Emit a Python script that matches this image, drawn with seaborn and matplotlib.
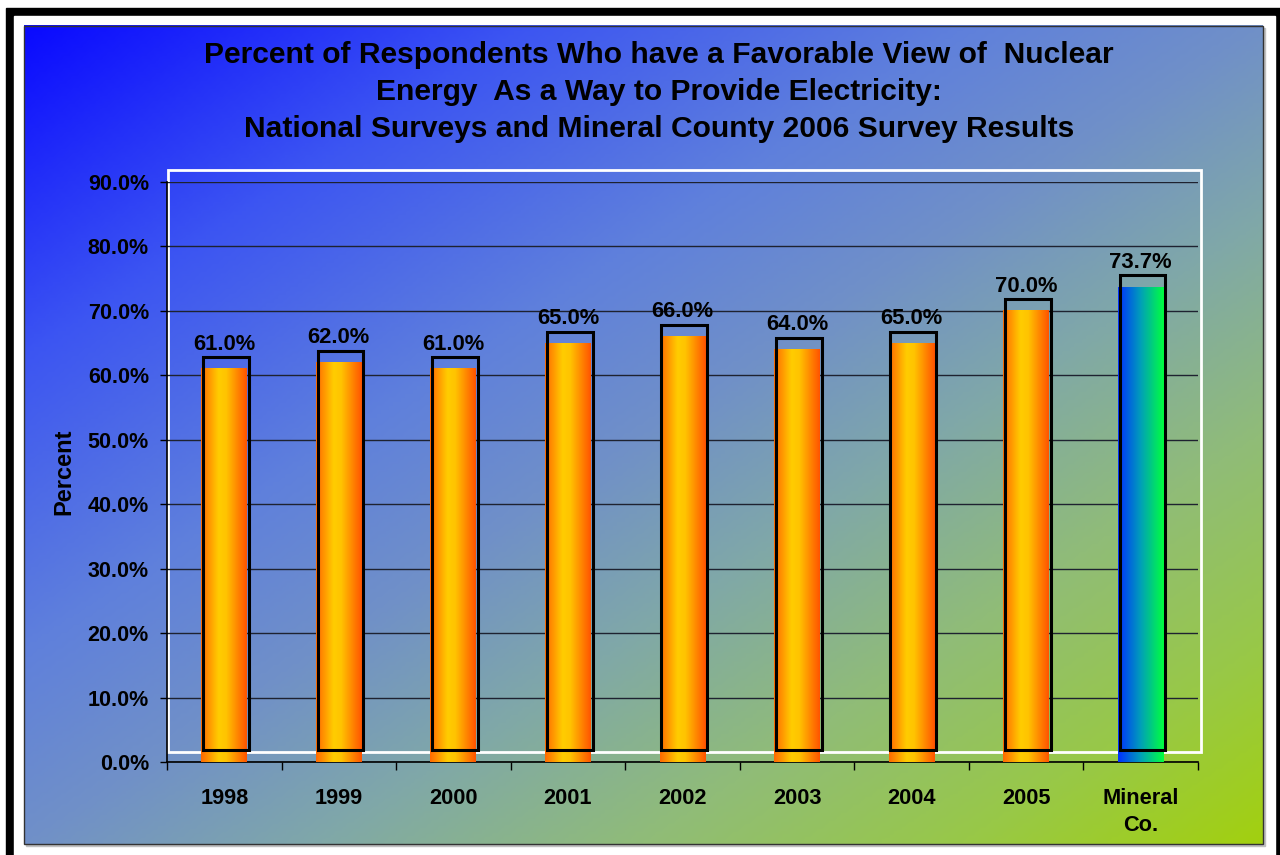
import numpy as np
import matplotlib
matplotlib.use('Agg')
import matplotlib.pyplot as plt
import seaborn as sns
from matplotlib.colors import LinearSegmentedColormap
from matplotlib.patches import Rectangle

# Chart data
categories = ['1998', '1999', '2000', '2001', '2002', '2003', '2004', '2005', 'Mineral\nCo.']
percent_favorable = [61.0, 62.0, 61.0, 65.0, 66.0, 64.0, 65.0, 70.0, 73.7]
y_ticks = [0, 10, 20, 30, 40, 50, 60, 70, 80, 90]
title = ('Percent of Respondents Who have a Favorable View of  Nuclear\n'
         'Energy  As a Way to Provide Electricity:\n'
         'National Surveys and Mineral County 2006 Survey Results')

# Colour ramps
bg_cmap = LinearSegmentedColormap.from_list('bg', [
    (0.0, '#0a0aff'), (0.2, '#3c55f2'), (0.38, '#5f80dc'), (0.5, '#7090c8'),
    (0.62, '#80a8a8'), (0.75, '#90bc78'), (0.88, '#98c848'), (1.0, '#a2d010')])
national_cmap = LinearSegmentedColormap.from_list('national', [
    (0.0, '#ff6a00'), (0.38, '#ffcc00'), (0.55, '#ffc400'), (1.0, '#ff5500')])
county_cmap = LinearSegmentedColormap.from_list('county', [
    (0.0, '#0030ff'), (0.5, '#00a0b8'), (1.0, '#00ff40')])

sns.set_theme(style='white')
plt.rcParams['font.family'] = ['Liberation Sans', 'DejaVu Sans']
plt.rcParams['font.weight'] = 'bold'

fig = plt.figure(figsize=(12.8, 8.55), dpi=100)
fig.patch.set_facecolor('white')

# Background layer in pixel coordinates: frame, gradient, white plot box
bg = fig.add_axes([0, 0, 1, 1], zorder=0)
bg.add_patch(Rectangle((6, 8), 1300, 900, color='black'))
bg.add_patch(Rectangle((14, 16), 1261, 900, color='white'))
bg.add_patch(Rectangle((26, 28), 1239, 818, color='#c0c0c0'))
gx, gy = np.meshgrid(np.linspace(0, 1, 310), np.linspace(0, 1, 205))
bg.imshow(bg_cmap((gx + gy) / 2), extent=(24, 1263, 844, 26), aspect='auto',
          interpolation='bilinear', zorder=1)
bg.add_patch(Rectangle((24, 26), 1239, 818, fill=False, ec='#333333', lw=1, zorder=2))
bg.add_patch(Rectangle((168, 170), 1033, 582, fill=False, ec='white', lw=2, zorder=2))
bg.set_xlim(0, 1280)
bg.set_ylim(855, 0)
bg.axis('off')

# Main chart
ax = fig.add_axes([167 / 1280, 93 / 855, 1031 / 1280, 580 / 855], zorder=1)
ax.patch.set_alpha(0)
sns.barplot(x=categories, y=percent_favorable, width=0.4, color='orange', ax=ax, zorder=3)

shift = 1.8
for i, (bar, value) in enumerate(zip(ax.patches, percent_favorable)):
    x0, w, h = bar.get_x(), bar.get_width(), bar.get_height()
    cmap = county_cmap if i == len(categories) - 1 else national_cmap
    ax.imshow(cmap(np.linspace(0, 1, 64))[None, :, :], extent=(x0, x0 + w, 0, h),
              aspect='auto', interpolation='bilinear', zorder=3)
    bar.set_facecolor('none')
    bar.set_edgecolor('none')
    ax.add_patch(Rectangle((x0 + 0.015, shift), w, h, fill=False, ec='black', lw=2.2, zorder=4))
    ax.annotate(f'{value:.1f}%', (x0 + w / 2, h + shift), xytext=(0, 2), textcoords='offset points',
                ha='center', va='bottom', fontsize=15.8, fontweight='bold', color='black')

ax.set_xlim(-0.5, len(categories) - 0.5)
ax.set_ylim(0, 90)
ax.set_yticks(y_ticks)
ax.set_yticklabels([f'{t:.1f}%' for t in y_ticks])
ax.set_xticks(np.arange(-0.5, len(categories), 1), minor=True)
ax.yaxis.grid(True, color='#1e2230', lw=1.0)
ax.set_axisbelow(True)

for side in ['top', 'right']:
    ax.spines[side].set_visible(False)
for side in ['left', 'bottom']:
    ax.spines[side].set_color('black')
    ax.spines[side].set_linewidth(1.2)

ax.tick_params(axis='y', which='major', left=True, direction='out', length=5, width=1,
               color='black', labelsize=15.5, labelcolor='black', pad=8)
ax.tick_params(axis='x', which='major', bottom=False, length=0, labelsize=15.7,
               labelcolor='black', pad=19)
ax.tick_params(axis='x', which='minor', bottom=True, direction='out', length=6, width=1,
               color='black')
for lbl in ax.get_xticklabels():
    lbl.set_linespacing(1.35)

ax.set_ylabel('Percent', fontsize=17, fontweight='bold', color='black')
ax.yaxis.set_label_coords(-0.089, 0.5)
ax.set_xlabel('')

fig.text(659 / 1280, 1 - 92 / 855, title, ha='center', va='center', fontsize=21.6,
         fontweight='bold', color='black', linespacing=1.4)

fig.savefig('out.png', dpi=100)
